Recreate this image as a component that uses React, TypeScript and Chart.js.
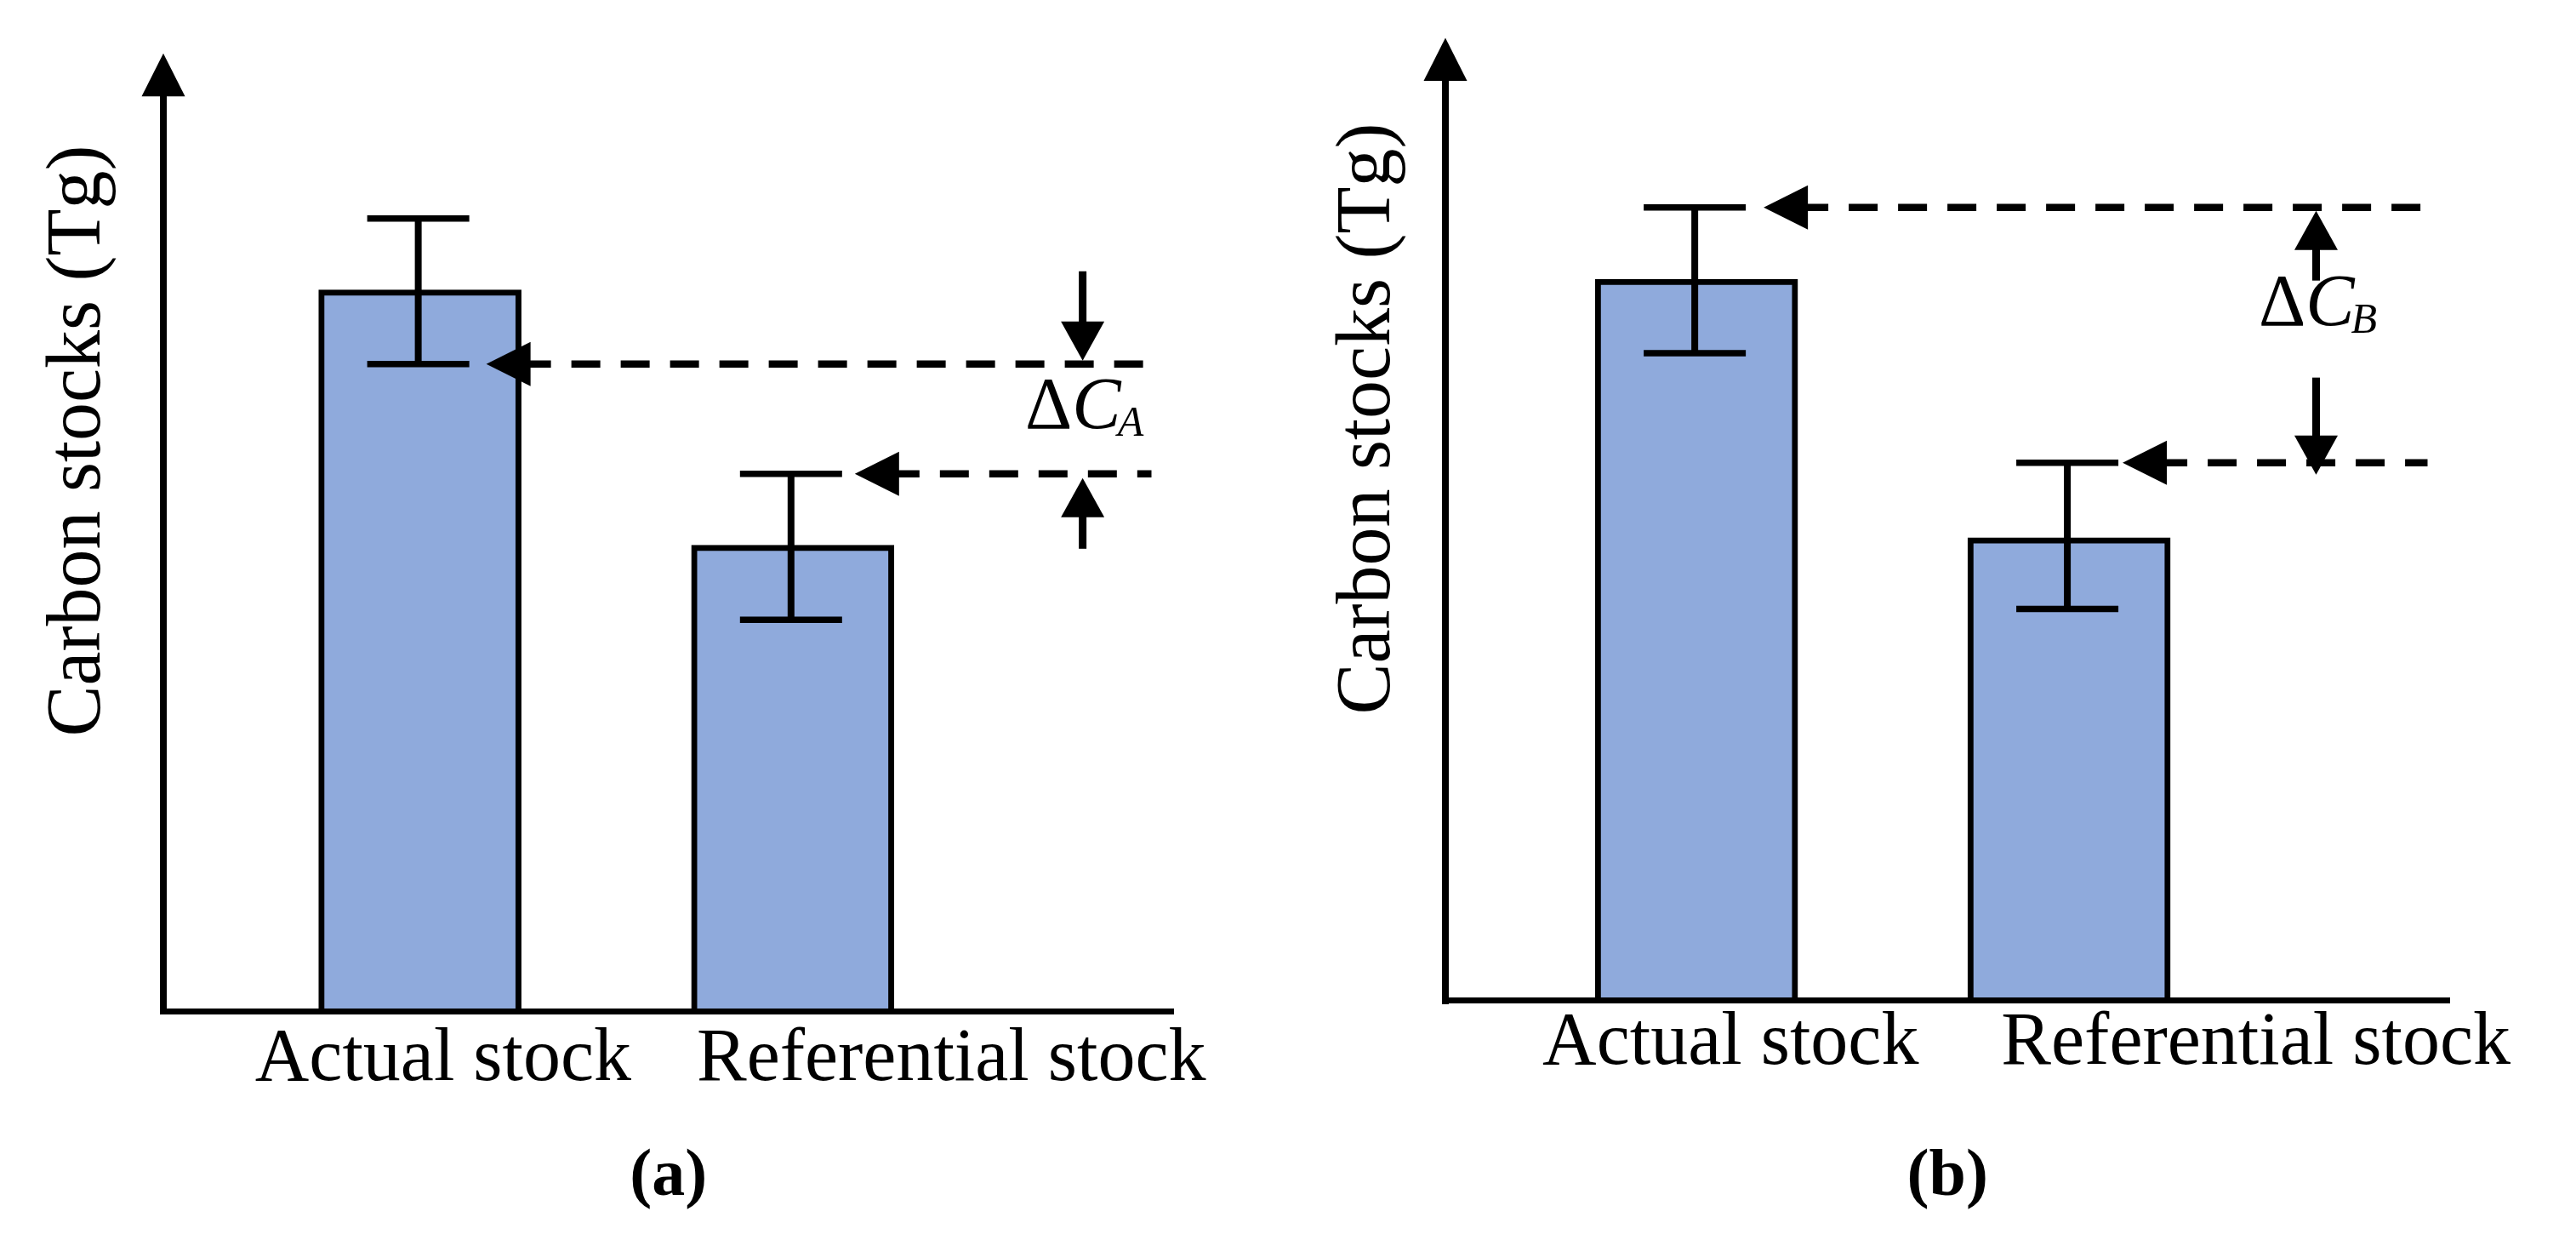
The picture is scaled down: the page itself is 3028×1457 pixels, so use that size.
import React, { useEffect, useRef } from 'react';
import { Chart, registerables } from 'chart.js';

Chart.register(...registerables);

// ---- data ----
const categories = ['Actual stock', 'Referential stock'];
const yTitle = 'Carbon stocks (Tg)';

// panel (a)
const barXA = [25.4, 62.3];
const labelXA = [27.7, 78.0];
const stockA = [78.8, 50.9];
const errHighA = [86.6, 58.7];
const errLowA = [70.7, 42.75];

// panel (b)
const barXB = [25.0, 62.1];
const labelXB = [28.4, 80.7];
const stockB = [78.4, 50.3];
const errHighB = [86.2, 58.45];
const errLowB = [70.35, 42.55];

const FONT = '"Liberation Serif", "Times New Roman", serif';
const BAR_FILL = '#8FAADC';

type DeltaRef = { bar: number; bound: 'high' | 'low'; gap: number };
interface PanelCfg {
  left: number;
  padding: { left: number; right: number; top: number; bottom: number };
  xAxisHeight: number;
  tickPadding: number;
  barX: number[];
  labelX: number[];
  values: number[];
  errHigh: number[];
  errLow: number[];
  caption: string;
  sub: string;
  deltaRefs: DeltaRef[];
  markerX: number;
  arrowMode: 'inward' | 'outward';
  labelDy: number;
  yTitleDx: number;
  yTitleCy: number;
}

const panelA: PanelCfg = {
  left: 0,
  padding: { left: 192, right: 134.5, top: 112.7, bottom: 0 },
  xAxisHeight: 157,
  tickPadding: 14,
  barX: barXA,
  labelX: labelXA,
  values: stockA,
  errHigh: errHighA,
  errLow: errLowA,
  caption: '(a)',
  sub: 'A',
  deltaRefs: [
    { bar: 0, bound: 'low', gap: 18 },
    { bar: 1, bound: 'high', gap: 13 },
  ],
  markerX: 91.0,
  arrowMode: 'inward',
  labelDy: 10.5,
  yTitleDx: 75,
  yTitleCy: 518,
};

const panelB: PanelCfg = {
  left: 1514,
  padding: { left: 185, right: 148.5, top: 94.5, bottom: 0 },
  xAxisHeight: 169.5,
  tickPadding: 7,
  barX: barXB,
  labelX: labelXB,
  values: stockB,
  errHigh: errHighB,
  errLow: errLowB,
  caption: '(b)',
  sub: 'B',
  deltaRefs: [
    { bar: 0, bound: 'high', gap: 19 },
    { bar: 1, bound: 'high', gap: 3 },
  ],
  markerX: 86.7,
  arrowMode: 'outward',
  labelDy: -11.5,
  yTitleDx: 66,
  yTitleCy: 492,
};

function drawVArrow(ctx: CanvasRenderingContext2D, x: number, tail: number, tip: number) {
  const dir = Math.sign(tip - tail);
  const headLen = 46;
  const headHalf = 25.5;
  const base = tip - dir * headLen;
  ctx.save();
  ctx.lineWidth = 9;
  ctx.lineCap = 'butt';
  ctx.beginPath();
  ctx.moveTo(x, tail);
  ctx.lineTo(x, base + dir * 2);
  ctx.stroke();
  ctx.beginPath();
  ctx.moveTo(x - headHalf, base);
  ctx.lineTo(x + headHalf, base);
  ctx.lineTo(x, tip);
  ctx.closePath();
  ctx.fill();
  ctx.restore();
}

function makeDecor(cfg: PanelCfg) {
  return {
    id: 'decor',
    afterDraw(chart: any) {
      const { ctx, chartArea: ca } = chart;
      const xs = chart.scales.x;
      const ys = chart.scales.y;
      const meta = chart.getDatasetMeta(0);
      ctx.save();
      ctx.fillStyle = '#000';
      ctx.strokeStyle = '#000';

      // y-axis arrowhead
      ctx.beginPath();
      ctx.moveTo(ca.left - 25.5, ca.top + 0.5);
      ctx.lineTo(ca.left + 25.5, ca.top + 0.5);
      ctx.lineTo(ca.left, ca.top - 50);
      ctx.closePath();
      ctx.fill();

      // error bars
      const capHalf = 60;
      meta.data.forEach((bar: any, i: number) => {
        const x = bar.x - 2;
        const yh = ys.getPixelForValue(cfg.errHigh[i]);
        const yl = ys.getPixelForValue(cfg.errLow[i]);
        ctx.lineCap = 'butt';
        ctx.lineWidth = 8;
        ctx.beginPath();
        ctx.moveTo(x, yh);
        ctx.lineTo(x, yl);
        ctx.stroke();
        ctx.lineWidth = 7.5;
        ctx.beginPath();
        ctx.moveTo(x - capHalf, yh);
        ctx.lineTo(x + capHalf, yh);
        ctx.moveTo(x - capHalf, yl);
        ctx.lineTo(x + capHalf, yl);
        ctx.stroke();
      });

      // dashed reference lines with arrowheads
      const lineYs = cfg.deltaRefs.map((ref) => {
        const v = ref.bound === 'high' ? cfg.errHigh[ref.bar] : cfg.errLow[ref.bar];
        const y = ys.getPixelForValue(v);
        const tip = meta.data[ref.bar].x + capHalf + ref.gap;
        const headLen = 52;
        const headHalf = 26;
        ctx.beginPath();
        ctx.moveTo(tip, y);
        ctx.lineTo(tip + headLen, y - headHalf);
        ctx.lineTo(tip + headLen, y + headHalf);
        ctx.closePath();
        ctx.fill();
        ctx.save();
        ctx.lineWidth = 8.5;
        ctx.setLineDash([34, 24]);
        ctx.lineDashOffset = 9;
        ctx.beginPath();
        ctx.moveTo(tip + headLen - 1, y);
        ctx.lineTo(ca.right - 26, y);
        ctx.stroke();
        ctx.restore();
        return y;
      });

      // vertical delta arrows
      const mx = xs.getPixelForValue(cfg.markerX);
      const [y1, y2] = lineYs;
      const arrows =
        cfg.arrowMode === 'inward'
          ? [
              [y1 - 109, y1 - 4],
              [y2 + 88, y2 + 5],
            ]
          : [
              [y1 + 86, y1 + 4],
              [y2 - 100, y2 + 14],
            ];
      arrows.forEach(([tail, tip]) => drawVArrow(ctx, mx, tail, tip));

      // delta label
      const by = (y1 + y2) / 2 + cfg.labelDy;
      const big = `86px ${FONT}`;
      const small = `italic 50px ${FONT}`;
      ctx.font = big;
      const wD = ctx.measureText('Δ').width;
      ctx.font = `italic ${big}`;
      const wC = ctx.measureText('C').width;
      ctx.font = small;
      const wS = ctx.measureText(cfg.sub).width;
      const total = wD + wC + wS - 4;
      const x0 = mx - total / 2 + 2;
      ctx.textAlign = 'left';
      ctx.textBaseline = 'alphabetic';
      ctx.font = big;
      ctx.fillText('Δ', x0, by);
      ctx.font = `italic ${big}`;
      ctx.fillText('C', x0 + wD, by);
      ctx.font = small;
      ctx.fillText(cfg.sub, x0 + wD + wC - 4, by + 9);

      // y-axis title
      ctx.save();
      ctx.translate(ca.left - cfg.yTitleDx, cfg.yTitleCy);
      ctx.rotate(-Math.PI / 2);
      ctx.font = `90px ${FONT}`;
      ctx.textAlign = 'center';
      ctx.textBaseline = 'alphabetic';
      ctx.fillText(yTitle, 0, 0);
      ctx.restore();

      ctx.restore();
    },
  };
}

function Panel({ cfg }: { cfg: PanelCfg }) {
  const ref = useRef<HTMLCanvasElement | null>(null);
  useEffect(() => {
    if (!ref.current) return;
    const chart = new Chart(ref.current, {
      type: 'bar',
      data: {
        datasets: [
          {
            data: cfg.values.map((v, i) => ({ x: cfg.barX[i], y: v })),
            backgroundColor: BAR_FILL,
            borderColor: '#000',
            borderWidth: 7,
            barThickness: 238,
          } as any,
        ],
      },
      options: {
        responsive: true,
        maintainAspectRatio: false,
        animation: false,
        events: [],
        layout: { padding: cfg.padding },
        plugins: {
          legend: { display: false },
          tooltip: { enabled: false },
          title: {
            display: true,
            position: 'bottom',
            text: cfg.caption,
            color: '#000',
            font: { family: FONT, size: 78, weight: 'bold', lineHeight: 1 },
            padding: { top: 0, bottom: 34 },
          },
        },
        scales: {
          x: {
            type: 'linear',
            min: 0,
            max: 100,
            offset: false,
            grid: { display: false, drawTicks: false, offset: false },
            border: { display: true, color: '#000', width: 7, z: 1 },
            afterBuildTicks: (s: any) => {
              s.ticks = cfg.labelX.map((v) => ({ value: v }));
            },
            afterFit: (s: any) => {
              s.height = cfg.xAxisHeight;
            },
            ticks: {
              autoSkip: false,
              maxRotation: 0,
              minRotation: 0,
              padding: cfg.tickPadding,
              color: '#000',
              font: { family: FONT, size: 88, lineHeight: 1 },
              callback: (_v: any, i: number) => categories[i],
            },
          } as any,
          y: {
            min: 0,
            max: 100,
            grid: { display: false, drawTicks: false, lineWidth: 8 },
            border: { display: true, color: '#000', width: 8, z: 1 },
            ticks: { display: false },
            afterFit: (s: any) => {
              s.width = 0;
            },
          } as any,
        },
      },
      plugins: [makeDecor(cfg) as any],
    });
    return () => chart.destroy();
  }, [cfg]);
  return (
    <div style={{ position: 'absolute', left: cfg.left, top: 0, width: 1514, height: 1457 }}>
      <canvas ref={ref} />
    </div>
  );
}

export default function App() {
  return (
    <div
      style={{
        position: 'fixed',
        left: 0,
        top: 0,
        width: 3028,
        height: 1457,
        background: '#fff',
        overflow: 'hidden',
      }}
    >
      <Panel cfg={panelA} />
      <Panel cfg={panelB} />
    </div>
  );
}
